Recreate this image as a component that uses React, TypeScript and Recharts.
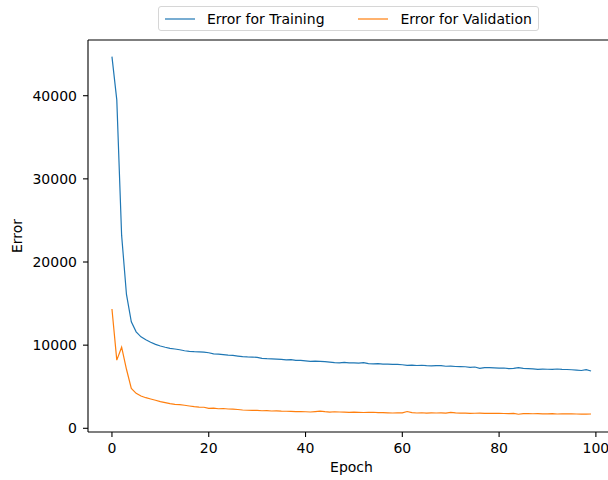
import { LineChart, Line, XAxis, YAxis, ReferenceLine } from "recharts";

const epochs = Array.from({ length: 100 }, (_, i) => i);

const trainingError = [
  44700, 39500, 23200, 16100, 12800, 11600, 11000, 10650, 10350, 10100,
  9900, 9750, 9620, 9540, 9450, 9330, 9260, 9210, 9180, 9150,
  9090, 8950, 8920, 8860, 8800, 8760, 8690, 8620, 8580, 8560,
  8540, 8420, 8370, 8340, 8310, 8280, 8220, 8250, 8160, 8170,
  8120, 8060, 8080, 8050, 8010, 7960, 7900, 7880, 7920, 7860,
  7870, 7840, 7890, 7780, 7760, 7770, 7730, 7720, 7700, 7680,
  7640, 7580, 7600, 7550, 7580, 7530, 7500, 7540, 7530, 7460,
  7480, 7430, 7410, 7400, 7330, 7370, 7200, 7300, 7290, 7270,
  7240, 7250, 7170, 7200, 7290, 7210, 7180, 7150, 7090, 7120,
  7100, 7080, 7130, 7090, 7070, 7040, 6990, 6950, 7050, 6890,
];

const validationError = [
  14350, 8200, 9750, 7100, 4800, 4200, 3880, 3680, 3520, 3370,
  3200, 3080, 2960, 2880, 2840, 2770, 2680, 2600, 2550, 2530,
  2400, 2420, 2350, 2380, 2320, 2300, 2260, 2200, 2170, 2160,
  2150, 2110, 2130, 2080, 2090, 2060, 2050, 2040, 2000, 2020,
  1990, 1960, 2010, 2070, 2000, 1950, 1990, 1960, 1940, 1920,
  1950, 1920, 1900, 1910, 1930, 1880, 1890, 1860, 1840, 1870,
  1850, 2020, 1880, 1840, 1870, 1830, 1860, 1840, 1850, 1830,
  1920, 1850, 1830, 1820, 1800, 1810, 1830, 1790, 1800, 1810,
  1790, 1780, 1760, 1790, 1690, 1770, 1760, 1750, 1760, 1740,
  1740, 1770, 1720, 1730, 1740, 1750, 1720, 1710, 1700, 1720,
];

const xTicks = [0, 20, 40, 60, 80, 100];
const yTicks = [0, 10000, 20000, 30000, 40000];

const X_DOMAIN: [number, number] = [-4.95, 103.95];
const Y_DOMAIN: [number, number] = [-445, 46700];

const COLORS = {
  training: "#1f77b4",
  validation: "#ff7f0e",
  spine: "#000000",
  text: "#000000",
};

const FONT = "'DejaVu Sans', sans-serif";

const data = epochs.map((e, i) => ({
  epoch: e,
  training: trainingError[i],
  validation: validationError[i],
}));

const tickStyle = { fontSize: 14, fill: COLORS.text, fontFamily: FONT };

function ErrorLabel({ viewBox }: { viewBox?: { x: number; y: number; width: number; height: number } }) {
  if (!viewBox) return null;
  const cx = viewBox.x + 9;
  const cy = viewBox.y + viewBox.height / 2;
  return (
    <text
      x={cx}
      y={cy}
      transform={`rotate(-90, ${cx}, ${cy})`}
      textAnchor="middle"
      dominantBaseline="central"
      fontSize={14}
      fontFamily={FONT}
      fill={COLORS.text}
    >
      Error
    </text>
  );
}

function LegendBox() {
  const item = (color: string, label: string, width: number) => (
    <div style={{ display: "flex", alignItems: "center", width }}>
      <svg width={30} height={4} style={{ marginLeft: 6, marginRight: 12 }}>
        <line x1={0} y1={2} x2={30} y2={2} stroke={color} strokeWidth={1.2} />
      </svg>
      <span>{label}</span>
    </div>
  );
  return (
    <div
      style={{
        position: "absolute",
        left: 158,
        top: 6,
        width: 381,
        height: 25,
        border: "1px solid #d6d6d6",
        borderRadius: 3,
        boxSizing: "border-box",
        display: "flex",
        alignItems: "center",
        fontFamily: FONT,
        fontSize: 14,
        color: COLORS.text,
        background: "#fff",
      }}
    >
      {item(COLORS.training, "Error for Training", 194)}
      {item(COLORS.validation, "Error for Validation", 186)}
    </div>
  );
}

export default function App() {
  return (
    <div
      style={{
        position: "fixed",
        left: 0,
        top: 0,
        width: 608,
        height: 480,
        overflow: "hidden",
        background: "#fff",
      }}
    >
      <LineChart
        width={640}
        height={480}
        data={data}
        margin={{ top: 40, right: 25, bottom: 18, left: 8 }}
      >
        <XAxis
          dataKey="epoch"
          type="number"
          domain={X_DOMAIN}
          ticks={xTicks}
          allowDataOverflow
          height={30}
          tick={tickStyle}
          tickSize={5}
          tickMargin={6}
          tickLine={{ stroke: COLORS.spine, strokeWidth: 1.1 }}
          axisLine={{ stroke: COLORS.spine, strokeWidth: 1.1 }}
          label={{
            value: "Epoch",
            position: "bottom",
            offset: 0,
            style: { fontSize: 14, fontFamily: FONT, fill: COLORS.text },
          }}
        />
        <YAxis
          type="number"
          domain={Y_DOMAIN}
          ticks={yTicks}
          allowDataOverflow
          width={80}
          tick={tickStyle}
          tickSize={5}
          tickMargin={6}
          tickLine={{ stroke: COLORS.spine, strokeWidth: 1.1 }}
          axisLine={{ stroke: COLORS.spine, strokeWidth: 1.1 }}
          label={<ErrorLabel />}
        />
        {/* top and right spines of the frame */}
        <ReferenceLine y={Y_DOMAIN[1]} stroke={COLORS.spine} strokeWidth={1.1} ifOverflow="visible" />
        <ReferenceLine x={X_DOMAIN[1]} stroke={COLORS.spine} strokeWidth={1.1} ifOverflow="visible" />
        <Line
          type="linear"
          dataKey="training"
          stroke={COLORS.training}
          strokeWidth={1.2}
          dot={false}
          activeDot={false}
          isAnimationActive={false}
        />
        <Line
          type="linear"
          dataKey="validation"
          stroke={COLORS.validation}
          strokeWidth={1.2}
          dot={false}
          activeDot={false}
          isAnimationActive={false}
        />
      </LineChart>
      <LegendBox />
    </div>
  );
}
